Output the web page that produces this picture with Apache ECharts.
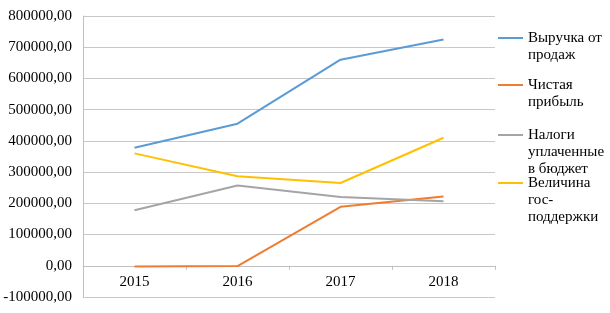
<!DOCTYPE html>
<html>
<head>
<meta charset="utf-8">
<script src="https://cdn.jsdelivr.net/npm/echarts@6/dist/echarts.min.js"></script>
<style>
  html, body { margin: 0; padding: 0; background: #fff; }
  #myChart { width: 610px; height: 313px; }
</style>
</head>
<body>
<div id="myChart"></div>
<script>
  // годы
  var years = ['2015', '2016', '2017', '2018'];
  // значения рядов
  var revenue = [378000, 455000, 660000, 725000];
  var netProfit = [-2000, -1000, 189000, 222000];
  var taxes = [178000, 257000, 220000, 207000];
  var support = [360000, 287000, 265000, 410000];
  // подписи легенды (с переносами как на картинке)
  var seriesNames = ['Выручка от продаж', 'Чистая прибыль', 'Налоги уплаченные в бюджет', 'Величина гос-поддержки'];
  var legendLabels = ['Выручка от\nпродаж', 'Чистая\nприбыль', 'Налоги\nуплаченные\nв бюджет', 'Величина\nгос-\nподдержки'];
  var colors = ['#5b9bd5', '#ed7d31', '#a5a5a5', '#ffc000'];
  var values = [revenue, netProfit, taxes, support];

  var font = 'Liberation Serif';
  var lh = 17;
  var legendTops = [12.5, 59.5, 92.5, 140.5];
  var plotH = 313 - 16 - 16;

  var myChart = echarts.init(document.getElementById('myChart'));

  // значок легенды — на уровне первой строки подписи
  var legends = seriesNames.map(function (name, i) {
    var n = legendLabels[i].split('\n').length;
    var pad = new Array(n).join('\n');
    return {
      orient: 'vertical',
      left: 498,
      top: legendTops[i],
      padding: 0,
      itemWidth: 25,
      itemHeight: 2,
      icon: 'rect',
      selectedMode: false,
      data: [name],
      formatter: function () { return pad + legendLabels[i]; },
      textStyle: {fontFamily: font, fontSize: 15, color: '#000', lineHeight: lh}
    };
  });

  myChart.setOption({
    animation: false,
    color: colors,
    grid: {left: 83, right: 115, top: 16, bottom: 16, containLabel: false, outerBoundsMode: 'none'},
    legend: legends,
    xAxis: {
      type: 'category',
      data: years,
      boundaryGap: true,
      // ось на уровне нуля (одно деление вверх от низа)
      offset: -plotH / 9,
      axisLine: {onZero: false, lineStyle: {color: '#bfbfbf', width: 1}},
      axisTick: {show: true, length: 4, lineStyle: {color: '#bfbfbf'}},
      axisLabel: {fontFamily: font, fontSize: 15, color: '#000', margin: 9}
    },
    yAxis: {
      type: 'value',
      min: -100000,
      max: 800000,
      interval: 100000,
      axisLine: {show: true, lineStyle: {color: '#bfbfbf', width: 1}},
      axisTick: {show: false},
      splitLine: {lineStyle: {color: '#c8c8c8', width: 1}},
      axisLabel: {
        fontFamily: font, fontSize: 15, color: '#000', margin: 11,
        formatter: function (v) { return v.toFixed(2).replace('.', ','); }
      }
    },
    series: seriesNames.map(function (name, i) {
      return {
        name: name,
        type: 'line',
        data: values[i],
        symbol: 'none',
        lineStyle: {width: 2, color: colors[i]},
        itemStyle: {color: colors[i]}
      };
    })
  });
</script>
</body>
</html>
